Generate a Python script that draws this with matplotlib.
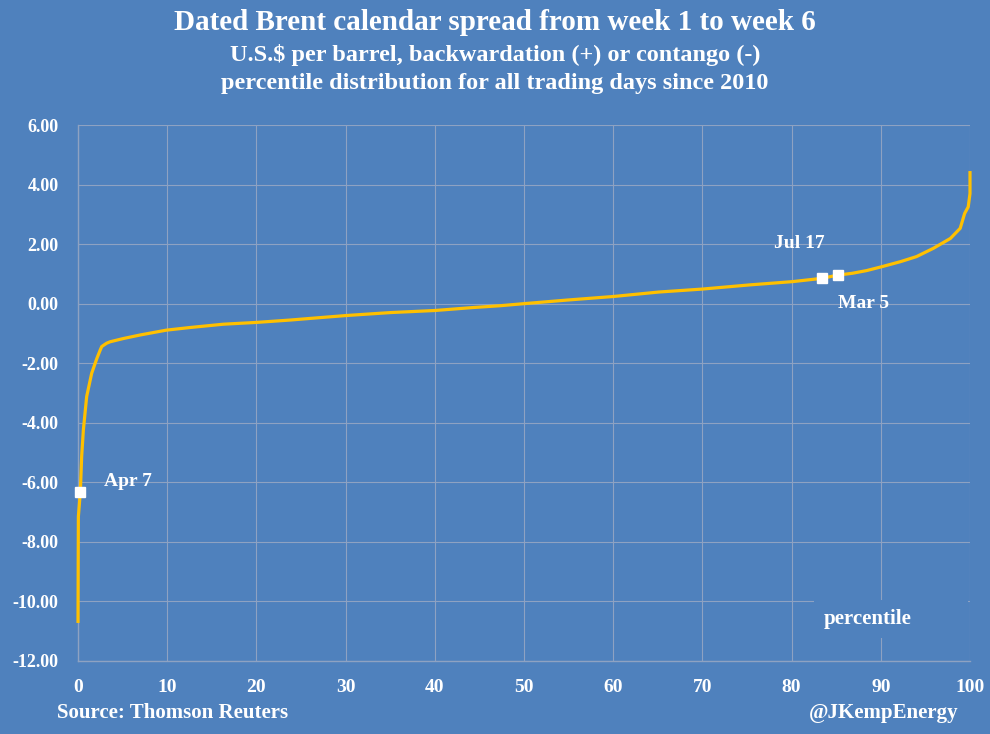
import numpy as np
import matplotlib.pyplot as plt
import matplotlib as mpl

mpl.rcParams['font.family'] = ['Liberation Serif', 'DejaVu Serif']
mpl.rcParams['font.weight'] = 'bold'
mpl.rcParams['axes.unicode_minus'] = False

BG = '#4f81bd'
GOLD = '#ffc000'
GRID = '#8ea2c2'

# percentile distribution
pct = [0, 0.02, 0.04, 0.26, 0.41, 0.6, 0.97, 1.53, 2.1, 2.5, 2.66, 3.2, 3.6,
       5.1, 7.0, 9.9, 12.6, 16.3, 20, 23.8, 27.5, 30, 35, 40, 44.3, 47.3, 50,
       54.8, 60, 65.1, 70, 75.3, 80.1, 83.4, 85.2, 86.8, 88.4, 90.1, 92.2, 94,
       95.9, 97.8, 98.9, 99.4, 99.8, 100, 100]
spread = [-10.67, -8.7, -7.15, -6.33, -5.13, -4.24, -3.12, -2.34, -1.85, -1.55,
          -1.44, -1.33, -1.28, -1.17, -1.05, -0.89, -0.80, -0.69, -0.63, -0.55,
          -0.46, -0.40, -0.30, -0.23, -0.13, -0.07, 0.0, 0.12, 0.24, 0.39, 0.49,
          0.63, 0.74, 0.85, 0.96, 1.02, 1.11, 1.24, 1.41, 1.58, 1.86, 2.19, 2.53,
          3.03, 3.25, 3.7, 4.40]

mark_labels = ['Apr 7', 'Jul 17', 'Mar 5']
mark_pct = [0.26, 83.4, 85.2]
mark_val = [-6.33, 0.85, 0.96]
# label positions in pixels (x, y from top)
label_px = [(104, 482), (774, 244), (838, 304)]

fig = plt.figure(figsize=(9.9, 7.34), dpi=100, facecolor=BG)
ax = fig.add_axes([0.0788, 0.0995, 0.901, 0.7302], facecolor=BG)

ax.plot(pct, spread, color=GOLD, lw=2.3, clip_on=False, zorder=3)
ax.plot(mark_pct, mark_val, ls='none', marker='s', ms=6.5, color='white',
        clip_on=False, zorder=4)

ax.set_xlim(0, 100)
ax.set_ylim(-12, 6)
ax.set_xticks(np.arange(0, 101, 10))
ax.set_yticks(np.arange(-12, 6.1, 2))
ax.yaxis.set_major_formatter(mpl.ticker.FormatStrFormatter('%.2f'))
ax.grid(True, color=GRID, lw=0.8)
ax.set_axisbelow(True)
for s in ['top', 'right']:
    ax.spines[s].set_visible(False)
for s in ['left', 'bottom']:
    ax.spines[s].set_color(GRID)
    ax.spines[s].set_linewidth(1)
ax.tick_params(length=0, labelcolor='white')
ax.tick_params(axis='y', pad=14, labelsize=13)
ax.tick_params(axis='x', pad=13, labelsize=14)

for lab, (x, y) in zip(mark_labels, label_px):
    fig.text(x / 990, 1 - y / 734, lab, color='white', fontsize=14,
             ha='left', va='center')

# box hiding the grid behind the axis title
ax.add_patch(mpl.patches.Rectangle((814 / 990, 1 - 638 / 734), 154 / 990, 38 / 734,
                                   transform=fig.transFigure, facecolor=BG,
                                   edgecolor='none', zorder=2))
fig.text(868 / 990, 1 - 619 / 734, 'percentile', color='white', fontsize=15,
         ha='center', va='center', zorder=5)

fig.text(0.5, 1 - 22 / 734, 'Dated Brent calendar spread from week 1 to week 6',
         color='white', fontsize=21, ha='center', va='center')
fig.text(0.5, 1 - 55 / 734, 'U.S.$ per barrel, backwardation (+) or contango (-)',
         color='white', fontsize=17.5, ha='center', va='center')
fig.text(0.5, 1 - 83 / 734, 'percentile distribution for all trading days since 2010',
         color='white', fontsize=17.5, ha='center', va='center')
fig.text(57 / 990, 1 - 713 / 734, 'Source: Thomson Reuters', color='white',
         fontsize=15, ha='left', va='center')
fig.text(958 / 990, 1 - 713 / 734, '@JKempEnergy', color='white',
         fontsize=15, ha='right', va='center')

fig.savefig('out.png', dpi=100, facecolor=BG)
